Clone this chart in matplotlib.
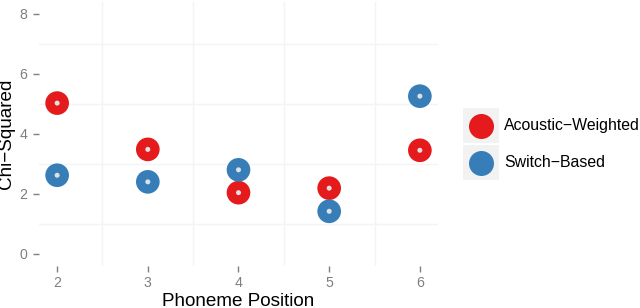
"""
Chi-squared by phoneme position, two scoring methods (ggplot-like look).
"""
import matplotlib
matplotlib.use("Agg")
import matplotlib.pyplot as plt
from matplotlib.patches import Rectangle
from matplotlib.lines import Line2D

# data
positions = [2, 3, 4, 5, 6]
acoustic = [5.02, 3.48, 2.04, 2.19, 3.45]
switch = [2.62, 2.40, 2.80, 1.42, 5.25]
series_names = ["Acoustic\u2212Weighted", "Switch\u2212Based"]
series_colors = ["#E41A1C", "#377EB8"]

y_ticks = [0, 2, 4, 6, 8]

def main():
    plt.rcParams["font.family"] = ["Liberation Sans", "DejaVu Sans"]
    fig = plt.figure(figsize=(6.4, 3.08), dpi=100)
    W, H = 640, 308
    # panel in pixels: left 39, right 438, top 1.5, bottom 266
    ax = fig.add_axes([39 / W, 1 - 266 / H, (438 - 39) / W, (266 - 1.5) / H])
    ax.set_xlim(1.8, 6.2)
    ax.set_ylim(-0.4, 8.4)

    for s in ax.spines.values():
        s.set_visible(False)

    # only the (very faint) minor grid shows in the reference
    grid_c = "#F4F4F4"
    for i in range(len(positions) - 1):
        ax.axvline((positions[i] + positions[i + 1]) / 2, color=grid_c, lw=1, zorder=0)
    for i in range(len(y_ticks) - 1):
        ax.axhline((y_ticks[i] + y_ticks[i + 1]) / 2, color=grid_c, lw=1, zorder=0)

    for vals, col in zip([acoustic, switch], series_colors):
        ax.scatter(positions, vals, s=290, color=col, edgecolors="none", zorder=3)
        ax.scatter(positions, vals, s=13, color="#E0E0E0", edgecolors="none", zorder=4)

    ax.set_xticks(positions)
    ax.set_yticks(y_ticks)
    ax.tick_params(axis="both", colors="#7F7F7F", labelcolor="#7F7F7F",
                   labelsize=10.2, length=4.3, width=1.0)
    ax.tick_params(axis="x", pad=3)
    ax.tick_params(axis="y", pad=4)

    ax.set_xlabel("Phoneme Position", fontsize=13.6, labelpad=2)
    ax.set_ylabel("Chi\u2212Squared", fontsize=13.6, labelpad=3)

    # legend drawn by hand: grey key boxes, large dots
    key_tops = [108, 145]
    for top, name, col in zip(key_tops, series_names, series_colors):
        fig.add_artist(Rectangle((463 / W, 1 - (top + 35) / H), 36 / W, 35 / H,
                                 transform=fig.transFigure, facecolor="#F2F2F2",
                                 edgecolor="none"))
        fig.add_artist(Line2D([481 / W], [1 - (top + 17.5) / H], marker="o",
                              markersize=18, color=col, markeredgewidth=0,
                              transform=fig.transFigure))
        fig.text(504 / W, 1 - (top + 17.5) / H, name, fontsize=11.4,
                 va="center", ha="left")

    fig.savefig("out.png", dpi=100)

if __name__ == "__main__":
    main()
